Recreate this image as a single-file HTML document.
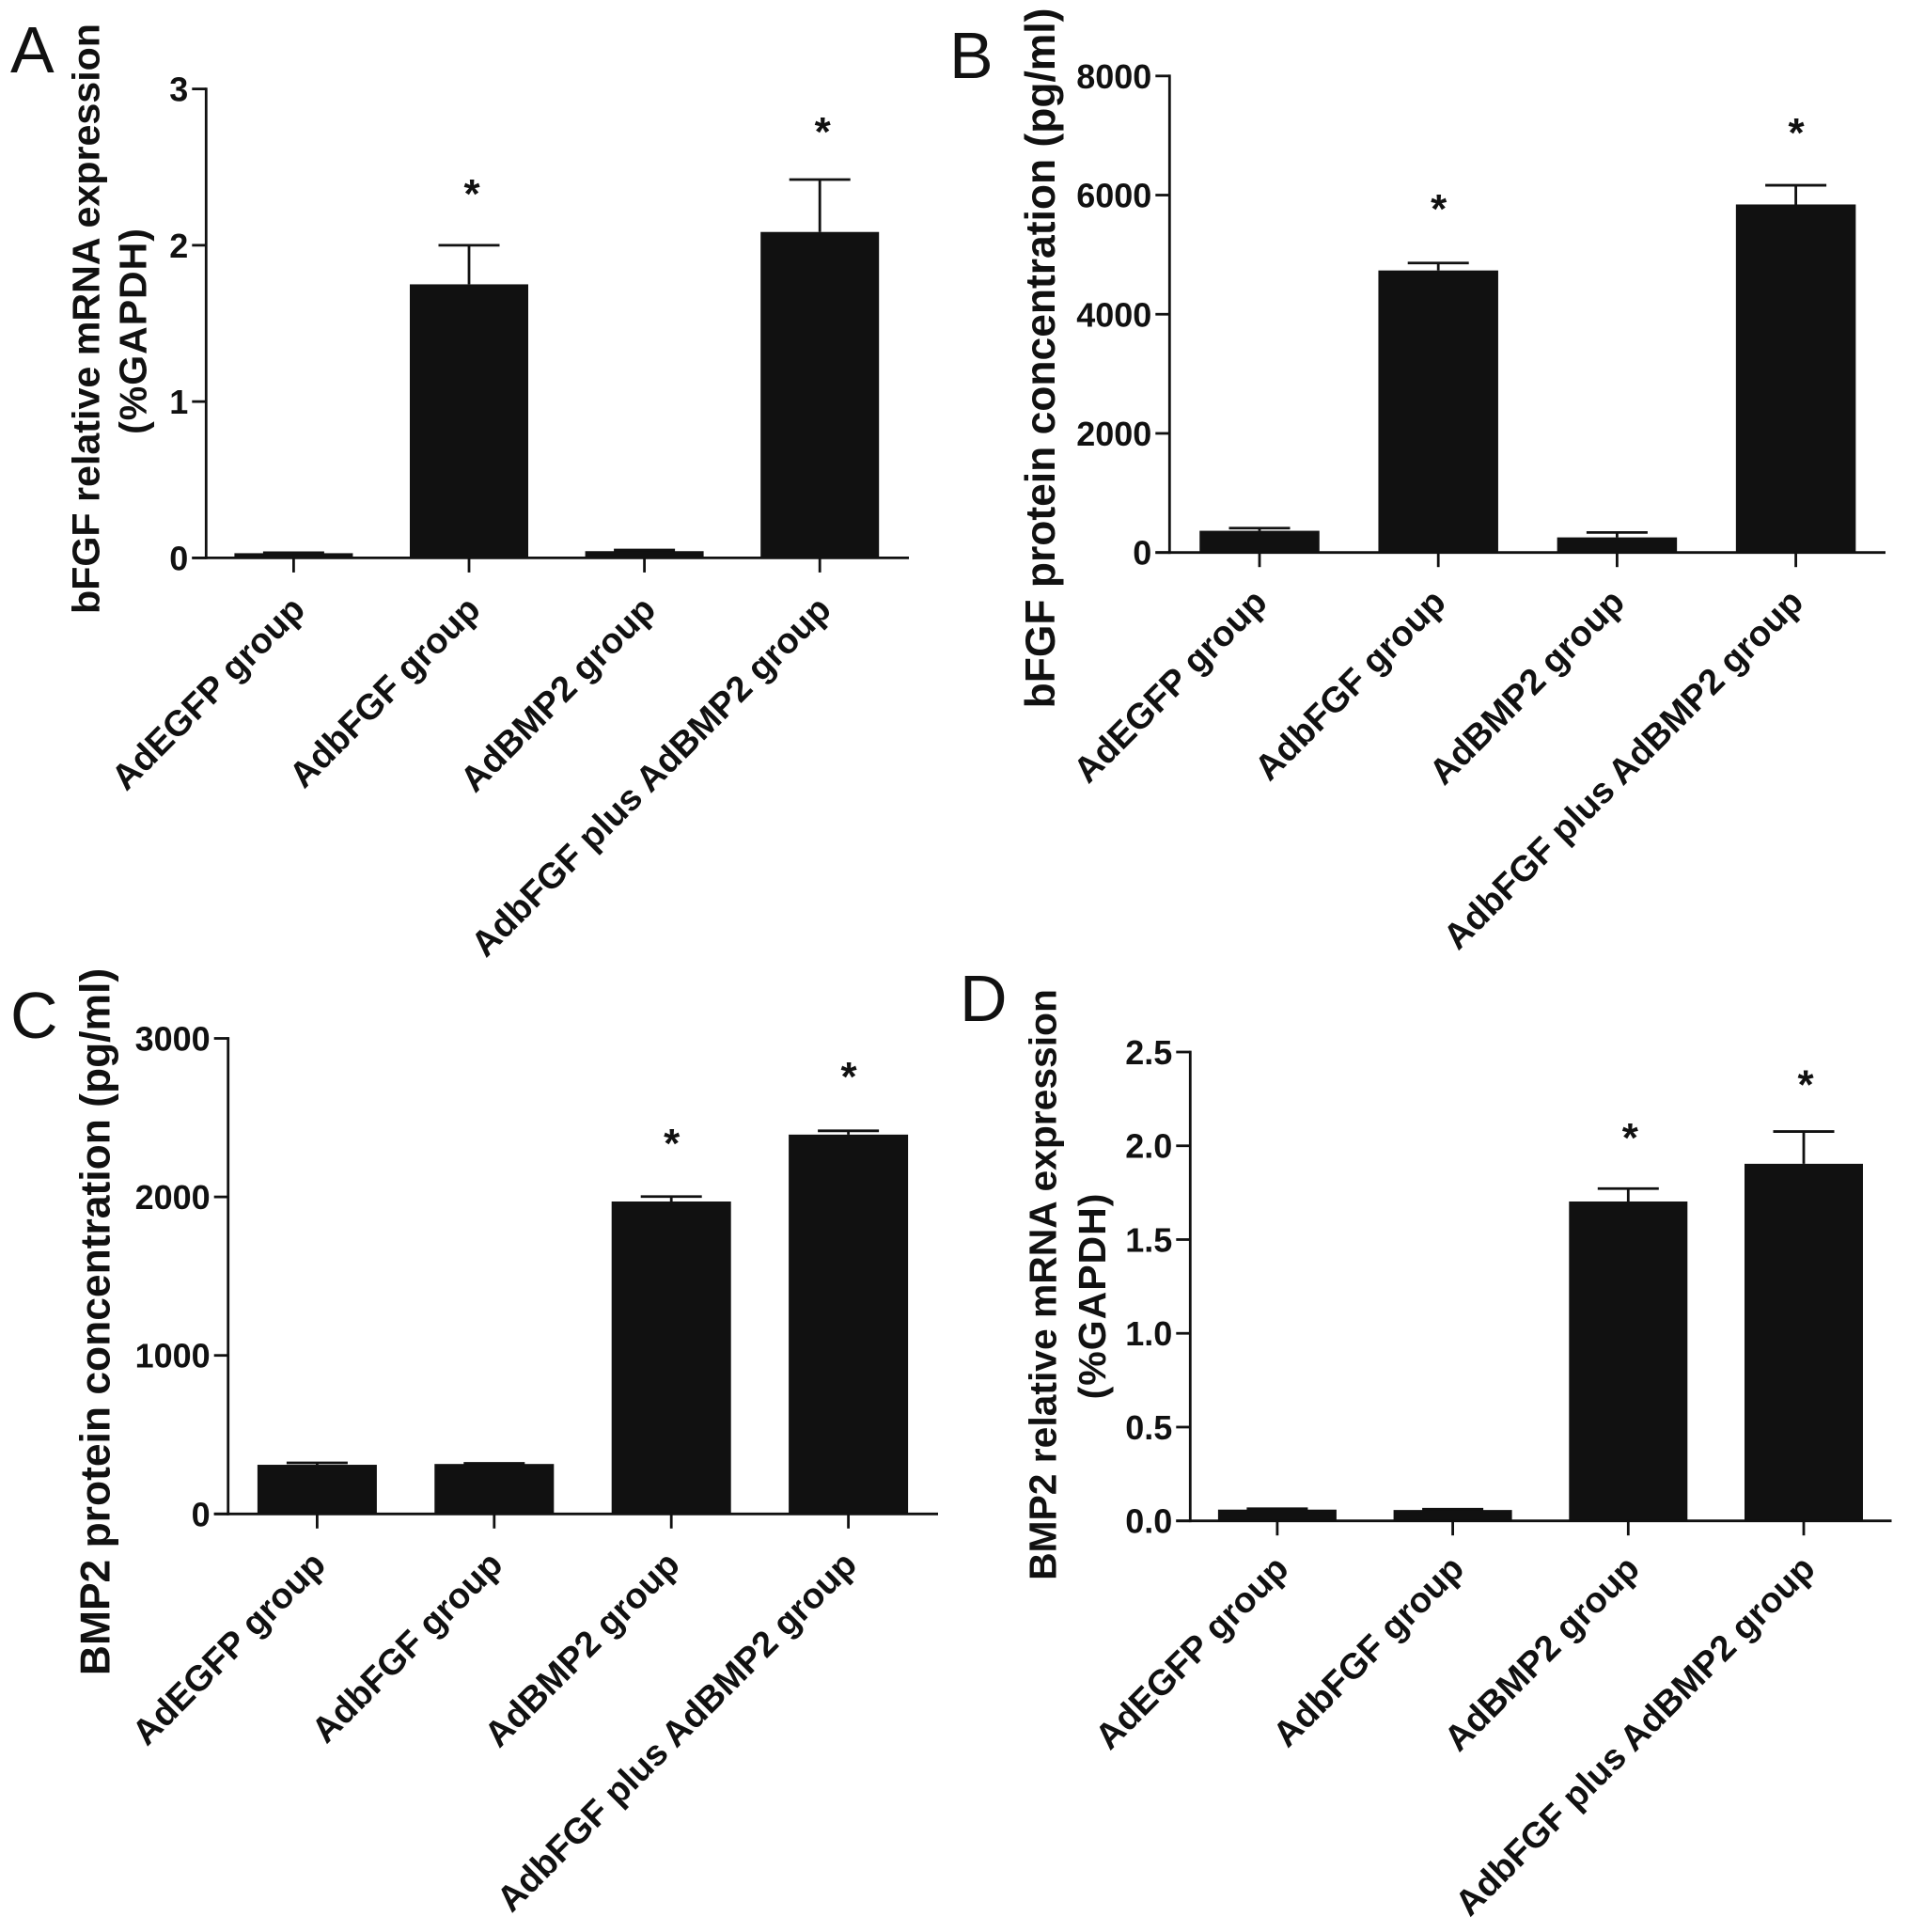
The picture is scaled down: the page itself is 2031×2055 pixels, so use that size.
<!DOCTYPE html>
<html>
<head>
<meta charset="utf-8">
<title>bFGF and BMP2 expression by group</title>
<style>
html,body{margin:0;padding:0;background:#fff;}
svg{display:block;}
text{font-family:"Liberation Sans",Arial,sans-serif;fill:#111;}
</style>
</head>
<body>
<svg id="figure" xmlns="http://www.w3.org/2000/svg" width="2031" height="2055" viewBox="0 0 2031 2055"></svg>
<script>
const categoriesAB = ["AdEGFP group", "AdbFGF group", "AdBMP2 group", "AdbFGF plus AdBMP2 group"];

const aTicks = ["0", "1", "2", "3"];
const aValues = [0.03, 1.75, 0.043, 2.085];
const aErrorTops = [0.033, 2.0, 0.05, 2.42];
const aStarGaps = [null, 59, null, 55];

const bTicks = ["0", "2000", "4000", "6000", "8000"];
const bValues = [365, 4735, 254, 5843];
const bErrorTops = [410, 4860, 336, 6165];
const bStarGaps = [null, 62, null, 60];

const cTicks = ["0", "1000", "2000", "3000"];
const cValues = [310, 315, 1971, 2393];
const cErrorTops = [322, 319, 2002, 2417];
const cStarGaps = [null, null, 61, 62];

const dTicks = ["0.0", "0.5", "1.0", "1.5", "2.0", "2.5"];
const dValues = [0.06, 0.058, 1.703, 1.904];
const dErrorTops = [0.065, 0.062, 1.772, 2.076];
const dStarGaps = [null, null, 58, 54];

const NS = "http://www.w3.org/2000/svg";
const root = document.getElementById("figure");
const INK = "#111";

function make(parent, tag, attrs, content) {
  const el = document.createElementNS(NS, tag);
  Object.keys(attrs).forEach(function (k) { el.setAttribute(k, attrs[k]); });
  if (content !== undefined) el.textContent = content;
  parent.appendChild(el);
  return el;
}

function drawPanel(p) {
  const g = make(root, "g", {});
  
  

  const tickNums = p.ticks.map(Number);
  const maxTick = Math.max.apply(null, tickNums);
  const yScale = function (v) { return p.y0 - (v / maxTick) * (p.y0 - p.yTop); };
  const xScale = function (i) { return p.xFirst + i * p.step; };

  const letter = make(g, "text", { x: p.letterX, y: p.letterY, "font-size": 70 }, p.key);
  
  

  p.titles.forEach(function (t) {
    const title = make(g, "text", {
      transform: "translate(" + t.x + "," + t.y + ") rotate(-90)",
      "text-anchor": "middle", "font-size": t.size, "font-weight": "bold",
      "letter-spacing": t.spacing || 0
    }, t.text);
    
    
  });

  p.values.forEach(function (v, i) {
    const cx = xScale(i);
    const err = make(g, "path", {
      d: "M" + cx + " " + yScale(v) + "V" + yScale(p.errorTops[i]) +
         "M" + (cx - 32.5) + " " + yScale(p.errorTops[i]) + "H" + (cx + 32.5),
      stroke: INK, "stroke-width": 2.8, fill: "none"
    });
    
    

    const bar = make(g, "rect", {
      x: cx - p.barW / 2, y: yScale(v), width: p.barW, height: p.y0 - yScale(v), fill: INK
    });
    
    

    if (p.starGaps[i] !== null) {
      const star = make(g, "text", {
        x: cx + p.starDx, y: yScale(p.errorTops[i]) - p.starGaps[i] + 19,
        "text-anchor": "middle", "font-size": 44, "font-weight": "bold"
      }, "*");
      
      
    }

    const tick = make(g, "line", {
      x1: cx, x2: cx, y1: p.y0, y2: p.y0 + 15.5, stroke: INK, "stroke-width": 2.8
    });
    
    

    const lx = cx + p.labelDx, ly = p.y0 + p.labelDy;
    const label = make(g, "text", {
      transform: "translate(" + lx + "," + ly + ") rotate(-45)",
      "text-anchor": "end", "font-size": 38, "font-weight": "bold"
    }, categoriesAB[i]);
    
    
  });

  const yAxis = make(g, "line", {
    x1: p.xAxis, x2: p.xAxis, y1: p.yTop - 1.4, y2: p.y0 + 1.4, stroke: INK, "stroke-width": 2.8
  });
  
  

  const xAxis = make(g, "line", {
    x1: p.xAxis - 15, x2: p.xEnd, y1: p.y0, y2: p.y0, stroke: INK, "stroke-width": 2.8
  });
  
  

  p.ticks.forEach(function (label, i) {
    const y = yScale(tickNums[i]);
    const tick = make(g, "line", {
      x1: p.xAxis - 15, x2: p.xAxis, y1: y, y2: y, stroke: INK, "stroke-width": 2.8
    });
    
    

    const text = make(g, "text", {
      x: p.xAxis - 19, y: y + 13, "text-anchor": "end", "font-size": 36, "font-weight": "bold"
    }, label);
    
    
  });
}

drawPanel({
  key: "A", ticks: aTicks, values: aValues, errorTops: aErrorTops, starGaps: aStarGaps, starDx: 3,
  xAxis: 219.3, xEnd: 967, y0: 593.4, yTop: 94.6, xFirst: 312.4, step: 186.6, barW: 126,
  letterX: 11, letterY: 77, labelDx: 14, labelDy: 57,
  titles: [
    { text: "bFGF relative mRNA expression", x: 105.5, y: 339, size: 41.2 },
    { text: "(%GAPDH)", x: 155.5, y: 352, size: 41, spacing: 1 }
  ]
});
drawPanel({
  key: "B", ticks: bTicks, values: bValues, errorTops: bErrorTops, starGaps: bStarGaps, starDx: 0.5,
  xAxis: 1244.3, xEnd: 2006, y0: 587.7, yTop: 80.8, xFirst: 1340, step: 190.2, barW: 127.5,
  letterX: 1010, letterY: 83, labelDx: 10, labelDy: 55,
  titles: [
    { text: "bFGF protein concentration (pg/ml)", x: 1122, y: 381, size: 44.4 }
  ]
});
drawPanel({
  key: "C", ticks: cTicks, values: cValues, errorTops: cErrorTops, starGaps: cStarGaps, starDx: 0.5,
  xAxis: 242.7, xEnd: 998, y0: 1610.3, yTop: 1104.5, xFirst: 337.4, step: 188.4, barW: 127,
  letterX: 11, letterY: 1104, labelDx: 11, labelDy: 56,
  titles: [
    { text: "BMP2 protein concentration (pg/ml)", x: 116.6, y: 1406, size: 44.4 }
  ]
});
drawPanel({
  key: "D", ticks: dTicks, values: dValues, errorTops: dErrorTops, starGaps: dStarGaps, starDx: 2,
  xAxis: 1266.3, xEnd: 2012.5, y0: 1617.7, yTop: 1119, xFirst: 1358.9, step: 186.7, barW: 126,
  letterX: 1021, letterY: 1086, labelDx: 14, labelDy: 53,
  titles: [
    { text: "BMP2 relative mRNA expression", x: 1123.6, y: 1366.5, size: 40.8 },
    { text: "(%GAPDH)", x: 1176, y: 1378.5, size: 41, spacing: 1 }
  ]
});
</script>
</body>
</html>
